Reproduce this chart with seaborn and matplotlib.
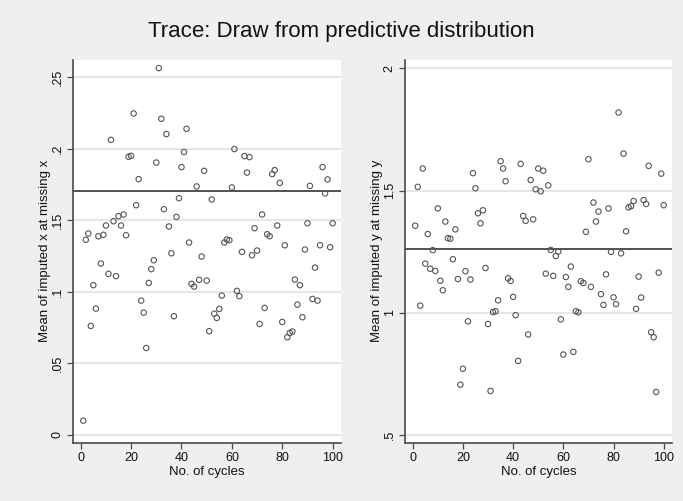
import numpy as np
import pandas as pd
import matplotlib
matplotlib.use("Agg")
import matplotlib.pyplot as plt
import seaborn as sns

cycles = list(range(1, 101))

mean_x = [0.010, 0.1364, 0.1408, 0.0762, 0.1047, 0.0883, 0.1389, 0.1198, 0.1399, 0.1464,
          0.1126, 0.2063, 0.1494, 0.1110, 0.1529, 0.1464, 0.1541, 0.1396, 0.1944, 0.1951,
          0.2247, 0.1606, 0.1788, 0.0939, 0.0855, 0.0608, 0.1063, 0.1159, 0.1221, 0.1904,
          0.2564, 0.2210, 0.1578, 0.2103, 0.1457, 0.1270, 0.0830, 0.1524, 0.1655, 0.1872,
          0.1977, 0.2140, 0.1345, 0.1056, 0.1037, 0.1737, 0.1084, 0.1247, 0.1846, 0.1079,
          0.0725, 0.1646, 0.0848, 0.0818, 0.0881, 0.0974, 0.1345, 0.1366, 0.1361, 0.1730,
          0.1998, 0.1007, 0.0970, 0.1280, 0.1949, 0.1834, 0.1942, 0.1256, 0.1445, 0.1289,
          0.0776, 0.1541, 0.0888, 0.1403, 0.1389, 0.1823, 0.1851, 0.1464, 0.1762, 0.0790,
          0.1326, 0.0683, 0.0713, 0.0723, 0.1086, 0.0911, 0.1047, 0.0823, 0.1296, 0.1480,
          0.1741, 0.0951, 0.1170, 0.0939, 0.1326, 0.1872, 0.1688, 0.1786, 0.1312, 0.1480]

mean_y = [1.356, 1.515, 1.029, 1.590, 1.201, 1.322, 1.180, 1.256, 1.171, 1.427,
          1.131, 1.092, 1.373, 1.305, 1.303, 1.219, 1.341, 1.138, 0.706, 0.771,
          1.170, 0.965, 1.136, 1.571, 1.509, 1.407, 1.366, 1.419, 1.183, 0.954,
          0.680, 1.003, 1.006, 1.051, 1.620, 1.590, 1.538, 1.141, 1.130, 1.065,
          0.990, 0.803, 1.609, 1.396, 1.376, 0.911, 1.543, 1.382, 1.505, 1.590,
          1.497, 1.581, 1.160, 1.521, 1.257, 1.151, 1.232, 1.250, 0.973, 0.829,
          1.146, 1.106, 1.189, 0.840, 1.006, 1.002, 1.129, 1.122, 1.331, 1.628,
          1.106, 1.451, 1.373, 1.414, 1.076, 1.032, 1.157, 1.427, 1.249, 1.063,
          1.035, 1.819, 1.243, 1.651, 1.333, 1.431, 1.436, 1.457, 1.016, 1.148,
          1.062, 1.461, 1.445, 1.601, 0.920, 0.900, 0.676, 1.164, 1.569, 1.440]

# reference lines (observed means)
ref_x = 0.1706
ref_y = 1.2596

x_ticks = [0, 20, 40, 60, 80, 100]
left_yticks = [0, 0.05, 0.1, 0.15, 0.2, 0.25]
left_yticklabels = ["0", ".05", ".1", ".15", ".2", ".25"]
right_yticks = [0.5, 1, 1.5, 2]
right_yticklabels = [".5", "1", "1.5", "2"]

title = "Trace: Draw from predictive distribution"
xlabel = "No. of cycles"
left_ylabel = "Mean of imputed x at missing x"
right_ylabel = "Mean of imputed y at missing y"

sns.set_style("white")
plt.rcParams['font.family'] = ['Liberation Sans', 'DejaVu Sans']

BG = "#efefef"
AX = "#4a4a4a"
fig = plt.figure(figsize=(6.83, 5.01), dpi=100, facecolor=BG)

df = pd.DataFrame({"cycle": cycles, "mx": mean_x, "my": mean_y})

ax1 = fig.add_axes([0.1064, 0.1164, 0.3928, 0.7639])
ax2 = fig.add_axes([0.5925, 0.1164, 0.3914, 0.7639])

def style(ax, col, ref, yticks, yticklabels, ylim, ylabel):
    ax.set_facecolor("white")
    for yt in yticks:
        ax.axhline(yt, color="#e6e6e6", lw=1.4, zorder=0)
    sns.scatterplot(data=df, x="cycle", y=col, ax=ax, s=15, marker="o",
                    facecolor="none", edgecolor="#555555", linewidth=0.8, zorder=3)
    ax.axhline(ref, color="#333333", lw=1.2, zorder=2)
    ax.set_xlim(-3.2, 103.3)
    ax.set_ylim(*ylim)
    ax.set_xticks(x_ticks)
    ax.set_xticklabels([str(t) for t in x_ticks])
    ax.set_yticks(yticks)
    ax.set_yticklabels(yticklabels, rotation=90, va="center")
    ax.tick_params(axis="both", direction="out", length=4, width=0.9, color=AX,
                   labelsize=9, labelcolor="#111111", pad=2.5, left=True, bottom=True)
    for s in ["top", "right"]:
        ax.spines[s].set_visible(False)
    for s in ["left", "bottom"]:
        ax.spines[s].set_color(AX)
        ax.spines[s].set_linewidth(1.2)
    ax.set_xlabel(xlabel, fontsize=9.5, color="#111111", labelpad=2)
    ax.set_ylabel(ylabel, fontsize=9.5, color="#111111", labelpad=0.5)

style(ax1, "mx", ref_x, left_yticks, left_yticklabels, (-0.0054, 0.2621), left_ylabel)
style(ax2, "my", ref_y, right_yticks, right_yticklabels, (0.4685, 2.034), right_ylabel)

fig.text(0.5, 1 - 32 / 501, title, ha="center", va="center", fontsize=16, color="#111111")

fig.savefig("out.png", dpi=100, facecolor=BG)
